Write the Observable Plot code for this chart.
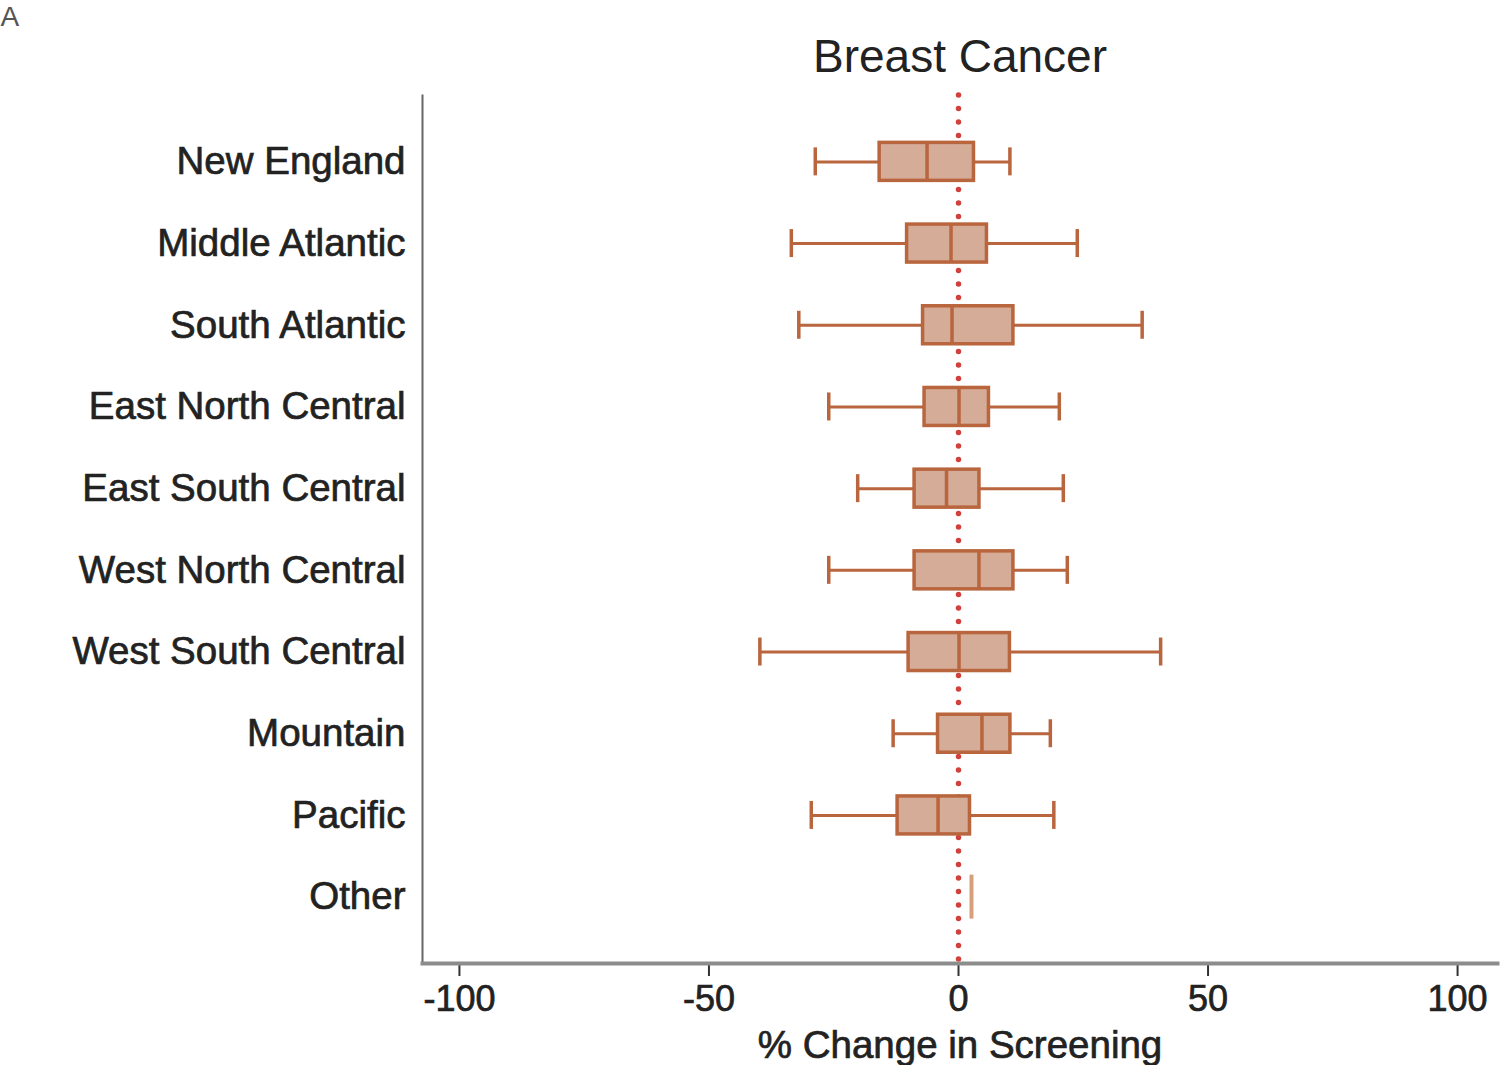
<!DOCTYPE html>
<html>
<head>
<meta charset="utf-8">
<script src="https://cdn.jsdelivr.net/npm/d3@7"></script>
<script src="https://cdn.jsdelivr.net/npm/@observablehq/plot@0.6"></script>
<style>
  html, body { margin: 0; padding: 0; background: #fff; }
  #chart { position: relative; width: 1500px; height: 1065px; }
  #chart svg g[aria-label="y-axis tick label"] text,
  #chart svg g[aria-label="x-axis tick label"] text,
  #chart svg g.heavy text { stroke: #222; stroke-width: 0.7px; }
</style>
</head>
<body>
<div id="chart"></div>
<script>
// Data (% change in screening, by region)
const regions = ["New England", "Middle Atlantic", "South Atlantic", "East North Central",
  "East South Central", "West North Central", "West South Central", "Mountain", "Pacific", "Other"];
const whiskerLow  = [-28.7, -33.5, -32.0, -26.0, -20.2, -26.0, -39.8, -13.1, -29.5, 2.6];
const quartile1   = [-15.8, -10.3,  -7.1,  -6.8,  -8.8,  -8.8, -10.0,  -4.1, -12.2, 2.6];
const medians     = [ -6.3,  -1.5,  -1.3,   0.1,  -2.4,   4.1,   0.1,   4.7,  -4.1, 2.6];
const quartile3   = [  3.1,   5.7,  11.0,   6.1,   4.2,  11.0,  10.3,  10.4,   2.3, 2.6];
const whiskerHigh = [ 10.3,  23.8,  36.8,  20.2,  21.0,  21.8,  40.5,  18.4,  19.1, 2.6];
const xTicks = [-100, -50, 0, 50, 100];

const rows = regions.map((r, i) => ({
  region: r, lo: whiskerLow[i], q1: quartile1[i], med: medians[i], q3: quartile3[i], hi: whiskerHigh[i]
}));
const boxes = rows.filter(d => d.q1 !== d.q3);
const flat = rows.filter(d => d.q1 === d.q3);

const FONT = "'Liberation Sans', Arial, Helvetica, sans-serif";
const FILL = "#d5ac97";
const STROKE = "#b9653d";

const chart = Plot.plot({
  width: 1500,
  height: 1065,
  marginLeft: 422,
  marginRight: 3,
  marginTop: 95,
  marginBottom: 102,
  style: { fontFamily: FONT, color: "#222", background: "#fff" },
  x: { domain: [-107.4, 108.0], ticks: xTicks, label: null },
  y: { domain: regions, type: "band", paddingInner: 0.535, paddingOuter: 0.58, round: false, label: null },
  marks: [
    // zero reference line (dotted red)
    Plot.ruleX([0], { stroke: "#d2403c", strokeWidth: 5.5, strokeDasharray: "0.1,13.4", strokeLinecap: "round" }),
    // whisker lines
    Plot.ruleY(boxes, { y: "region", x1: "lo", x2: "hi", stroke: STROKE, strokeWidth: 3 }),
    // whisker caps
    Plot.tickX(boxes, { x: "lo", y: "region", stroke: STROKE, strokeWidth: 3.5, insetTop: 5, insetBottom: 5 }),
    Plot.tickX(boxes, { x: "hi", y: "region", stroke: STROKE, strokeWidth: 3.5, insetTop: 5, insetBottom: 5 }),
    // boxes
    Plot.barX(boxes, { x1: "q1", x2: "q3", y: "region", fill: FILL, stroke: STROKE, strokeWidth: 3.5 }),
    // medians
    Plot.tickX(boxes, { x: "med", y: "region", stroke: STROKE, strokeWidth: 3.5 }),
    // degenerate box (single value)
    Plot.tickX(flat, { x: "med", y: "region", stroke: "#d6a07c", strokeWidth: 4, insetTop: -3, insetBottom: -3 }),
    // axes
    Plot.axisY({ tickSize: 0, tickPadding: 17, fontSize: 38.5, fill: "#222", label: null }),
    Plot.axisX({ ticks: xTicks, tickFormat: d => String(d), tickSize: 13, tickPadding: 9, fontSize: 36, stroke: "#333", strokeWidth: 2, fill: "#222", label: null }),
    Plot.frame({ anchor: "left", stroke: "#666", strokeWidth: 2 }),
    Plot.frame({ anchor: "bottom", stroke: "#8c8c8c", strokeWidth: 4 }),
    // title, axis label, panel letter
    Plot.text(["Breast Cancer"], { frameAnchor: "top", dy: -38, lineAnchor: "middle", fontSize: 46, fill: "#222" }),
    Plot.text(["% Change in Screening"], { frameAnchor: "bottom", dy: 82, lineAnchor: "middle", fontSize: 38.5, fill: "#222", stroke: "#222", strokeWidth: 0.7 }),
    Plot.text(["A"], { frameAnchor: "top-left", dx: -422, dy: -78, textAnchor: "start", lineAnchor: "middle", fontSize: 28, fill: "#555" })
  ]
});
document.getElementById("chart").appendChild(chart);
</script>
</body>
</html>
